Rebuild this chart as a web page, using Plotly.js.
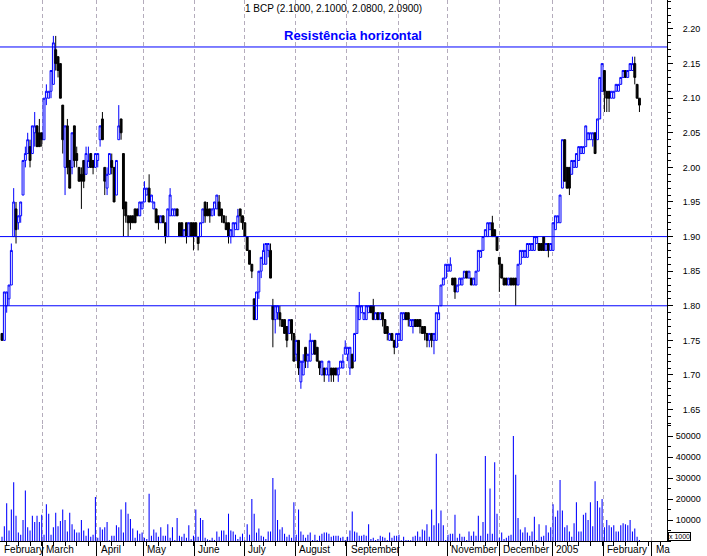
<!DOCTYPE html>
<html><head><meta charset="utf-8">
<script src="https://cdn.plot.ly/plotly-3.0.1.min.js"></script>
<style>body{margin:0;background:#fff}#chart{width:707px;height:556px}</style>
</head><body><div id="chart"></div>
<script>
// Daily candles, trading-day index 0..273 (Feb 2004 - Feb 2005)
const openP = [
1.76,1.75,1.80,1.81,1.83,1.90,1.94,1.92,1.93,1.96,
2.01,2.02,2.03,2.02,2.05,2.06,2.05,2.05,2.04,2.10,
2.10,2.11,2.12,2.17,2.16,2.15,2.09,2.00,2.06,2.01,
2.00,2.06,2.02,2.00,1.99,2.01,1.99,2.00,2.02,2.01,
2.00,2.01,2.04,2.07,2.00,1.97,1.99,2.01,2.00,1.96,
2.04,2.07,2.02,1.95,1.93,1.93,1.93,1.94,1.94,1.93,
1.94,1.95,1.96,1.97,1.95,1.94,1.94,1.93,1.92,1.93,
1.92,1.90,1.93,1.93,1.93,1.94,1.92,1.92,1.90,1.92,
1.90,1.92,1.92,1.92,1.90,1.90,1.92,1.95,1.94,1.94,
1.93,1.94,1.94,1.95,1.94,1.93,1.92,1.92,1.90,1.90,
1.91,1.91,1.94,1.93,1.92,1.90,1.88,1.86,1.81,1.78,
1.82,1.85,1.86,1.86,1.88,1.88,1.80,1.78,1.79,1.79,
1.78,1.78,1.77,1.76,1.78,1.76,1.73,1.75,1.69,1.70,
1.74,1.72,1.72,1.73,1.75,1.74,1.72,1.70,1.71,1.70,
1.70,1.71,1.71,1.71,1.70,1.71,1.71,1.73,1.73,1.71,
1.73,1.72,1.76,1.78,1.79,1.78,1.78,1.79,1.80,1.80,
1.78,1.79,1.78,1.79,1.78,1.77,1.75,1.76,1.75,1.74,
1.75,1.75,1.78,1.79,1.79,1.77,1.77,1.78,1.78,1.78,
1.77,1.77,1.76,1.75,1.76,1.75,1.75,1.78,1.80,1.83,
1.84,1.85,1.85,1.84,1.84,1.82,1.83,1.83,1.84,1.85,
1.84,1.84,1.83,1.83,1.85,1.87,1.88,1.90,1.90,1.91,
1.92,1.91,1.90,1.87,1.86,1.84,1.84,1.83,1.84,1.84,
1.84,1.83,1.86,1.87,1.87,1.87,1.88,1.88,1.88,1.89,
1.89,1.89,1.90,1.88,1.89,1.88,1.88,1.91,1.92,1.92,
1.97,2.04,2.00,2.00,1.99,2.00,2.00,2.01,2.02,2.02,
2.03,2.04,2.04,2.04,2.05,2.04,2.07,2.11,2.14,2.11,
2.11,2.10,2.10,2.11,2.11,2.12,2.13,2.14,2.13,2.14,
2.14,2.15,2.12,2.10];
const highP = [
1.76,1.82,1.82,1.83,1.89,1.97,1.95,1.93,1.95,2.01,
2.03,2.05,2.04,2.06,2.08,2.06,2.07,2.05,2.10,2.12,
2.11,2.14,2.19,2.19,2.16,2.15,2.09,2.06,2.07,2.01,
2.05,2.06,2.03,2.00,2.00,2.01,2.03,2.03,2.02,2.01,
2.02,2.02,2.06,2.08,2.00,2.00,2.02,2.02,2.00,2.01,
2.09,2.07,2.02,1.95,1.93,1.93,1.93,1.94,1.94,1.95,
1.95,1.98,1.97,1.99,1.96,1.95,1.94,1.93,1.93,1.93,
1.92,1.94,1.97,1.94,1.94,1.94,1.92,1.92,1.91,1.92,
1.92,1.92,1.92,1.92,1.90,1.92,1.94,1.95,1.95,1.94,
1.94,1.95,1.96,1.96,1.94,1.93,1.93,1.92,1.91,1.92,
1.92,1.94,1.94,1.93,1.92,1.90,1.88,1.86,1.81,1.82,
1.85,1.87,1.89,1.89,1.89,1.89,1.81,1.80,1.80,1.80,
1.78,1.78,1.77,1.78,1.78,1.76,1.75,1.75,1.72,1.73,
1.74,1.73,1.76,1.75,1.75,1.74,1.72,1.72,1.71,1.71,
1.72,1.71,1.71,1.71,1.71,1.72,1.73,1.75,1.74,1.74,
1.73,1.76,1.80,1.82,1.80,1.79,1.80,1.80,1.80,1.81,
1.79,1.79,1.79,1.79,1.78,1.77,1.76,1.76,1.75,1.76,
1.76,1.79,1.79,1.79,1.79,1.78,1.78,1.78,1.78,1.78,
1.77,1.77,1.76,1.76,1.76,1.76,1.79,1.80,1.83,1.84,
1.86,1.86,1.87,1.84,1.84,1.83,1.84,1.84,1.85,1.85,
1.85,1.84,1.84,1.85,1.88,1.88,1.90,1.91,1.92,1.92,
1.93,1.91,1.90,1.87,1.86,1.84,1.84,1.84,1.84,1.84,
1.84,1.86,1.88,1.88,1.88,1.89,1.89,1.89,1.90,1.90,
1.89,1.89,1.90,1.89,1.89,1.89,1.92,1.93,1.93,1.96,
2.04,2.04,2.00,2.00,2.01,2.01,2.02,2.03,2.03,2.03,
2.06,2.05,2.05,2.05,2.05,2.07,2.13,2.15,2.14,2.11,
2.11,2.11,2.11,2.12,2.12,2.13,2.14,2.14,2.14,2.15,
2.16,2.16,2.12,2.10];
const lowP = [
1.75,1.75,1.79,1.80,1.83,1.90,1.89,1.91,1.92,1.96,
2.00,2.02,2.00,2.02,2.03,2.03,2.03,2.03,2.04,2.09,
2.10,2.10,2.12,2.14,2.13,2.10,2.02,1.96,1.99,1.97,
1.99,2.00,2.00,1.98,1.94,1.97,1.99,2.00,2.00,1.99,
2.00,2.00,2.03,2.04,1.96,1.96,1.99,1.99,1.95,1.96,
2.04,2.04,1.90,1.92,1.90,1.91,1.92,1.92,1.93,1.93,
1.94,1.95,1.96,1.95,1.95,1.94,1.92,1.91,1.92,1.92,
1.89,1.90,1.93,1.93,1.93,1.93,1.90,1.90,1.90,1.89,
1.90,1.90,1.88,1.90,1.88,1.90,1.92,1.92,1.93,1.92,
1.93,1.93,1.94,1.93,1.92,1.92,1.91,1.89,1.89,1.90,
1.91,1.91,1.92,1.91,1.90,1.88,1.86,1.84,1.78,1.78,
1.81,1.84,1.86,1.86,1.87,1.84,1.74,1.76,1.78,1.77,
1.77,1.76,1.74,1.76,1.75,1.72,1.72,1.70,1.68,1.70,
1.71,1.71,1.72,1.73,1.73,1.72,1.70,1.70,1.69,1.70,
1.69,1.69,1.69,1.70,1.69,1.71,1.71,1.73,1.72,1.70,
1.71,1.72,1.76,1.78,1.79,1.78,1.78,1.79,1.79,1.78,
1.78,1.78,1.78,1.77,1.76,1.75,1.75,1.75,1.73,1.74,
1.75,1.75,1.78,1.78,1.77,1.77,1.76,1.77,1.77,1.76,
1.76,1.75,1.74,1.74,1.74,1.73,1.75,1.78,1.80,1.83,
1.84,1.85,1.85,1.83,1.81,1.82,1.83,1.83,1.84,1.84,
1.84,1.83,1.83,1.83,1.85,1.87,1.88,1.90,1.90,1.91,
1.90,1.90,1.88,1.82,1.84,1.83,1.83,1.83,1.83,1.83,
1.80,1.83,1.86,1.87,1.87,1.87,1.88,1.88,1.88,1.89,
1.88,1.88,1.88,1.88,1.87,1.88,1.88,1.91,1.92,1.92,
1.97,1.98,1.97,1.96,1.99,2.00,2.00,2.01,2.02,2.02,
2.03,2.04,2.04,2.03,2.02,2.04,2.07,2.11,2.08,2.08,
2.08,2.10,2.10,2.11,2.11,2.12,2.13,2.13,2.13,2.14,
2.14,2.12,2.10,2.08];
const closeP = [
1.75,1.82,1.82,1.83,1.88,1.95,1.91,1.93,1.95,2.01,
2.02,2.04,2.01,2.06,2.06,2.03,2.03,2.04,2.10,2.11,
2.11,2.14,2.18,2.15,2.14,2.10,2.04,2.06,2.00,1.97,
2.05,2.01,2.01,1.98,1.98,1.98,2.02,2.01,2.00,2.00,
2.02,2.02,2.06,2.04,1.98,1.99,2.02,2.00,1.95,2.01,
2.06,2.05,1.94,1.93,1.92,1.92,1.92,1.92,1.93,1.95,
1.95,1.97,1.97,1.95,1.96,1.95,1.92,1.92,1.93,1.92,
1.90,1.94,1.96,1.94,1.94,1.93,1.90,1.90,1.91,1.90,
1.92,1.90,1.90,1.90,1.89,1.92,1.94,1.93,1.93,1.93,
1.94,1.95,1.96,1.93,1.93,1.92,1.91,1.90,1.91,1.92,
1.92,1.93,1.93,1.92,1.90,1.88,1.86,1.85,1.78,1.82,
1.85,1.87,1.88,1.89,1.89,1.84,1.78,1.80,1.80,1.78,
1.77,1.76,1.75,1.78,1.76,1.72,1.75,1.71,1.72,1.72,
1.72,1.73,1.75,1.75,1.73,1.72,1.71,1.72,1.70,1.71,
1.72,1.70,1.70,1.70,1.71,1.72,1.72,1.74,1.74,1.74,
1.71,1.76,1.80,1.80,1.80,1.79,1.80,1.80,1.79,1.78,
1.79,1.78,1.79,1.78,1.76,1.76,1.76,1.75,1.74,1.76,
1.76,1.79,1.79,1.78,1.78,1.78,1.78,1.77,1.77,1.77,
1.76,1.76,1.75,1.76,1.75,1.76,1.79,1.79,1.83,1.84,
1.86,1.86,1.86,1.83,1.82,1.83,1.84,1.84,1.85,1.84,
1.85,1.83,1.84,1.85,1.88,1.88,1.90,1.91,1.92,1.92,
1.90,1.90,1.88,1.86,1.84,1.83,1.83,1.84,1.83,1.83,
1.83,1.86,1.88,1.88,1.88,1.89,1.89,1.89,1.90,1.90,
1.88,1.88,1.88,1.89,1.88,1.89,1.92,1.93,1.93,1.96,
2.04,1.98,1.97,1.97,2.01,2.01,2.02,2.03,2.03,2.03,
2.06,2.05,2.05,2.05,2.02,2.07,2.13,2.15,2.11,2.10,
2.10,2.11,2.11,2.12,2.12,2.13,2.14,2.13,2.14,2.15,
2.15,2.13,2.10,2.09];
const volume = [
2000,7000,18000,5000,15000,28000,12000,4000,3000,10000,
24000,6500,5000,12000,9000,12000,9000,12500,3000,17500,
13000,3000,6500,13500,7000,9500,15000,10000,4500,13500,
8000,5500,4000,4000,10000,5000,2500,6000,2000,3000,
21000,1500,6500,5500,6500,9000,300,2500,2500,7500,
6500,15000,4000,18500,13000,10500,6000,1500,5000,3500,
4000,1500,1000,22500,2500,5500,4000,2000,6500,2500,
2500,8000,1500,6500,500,11000,2500,2000,3500,1500,
7500,800,2500,15000,2000,11000,10000,1500,800,500,
1500,500,4500,2000,5000,5000,3000,13000,5000,4500,
3000,1000,2000,3500,300,8000,3000,20000,13000,4000,
6000,2500,2000,1000,4500,4500,30000,24500,10000,5500,
6500,3500,2000,3000,1500,18500,3000,15000,4500,3000,
1500,3000,4000,500,3000,500,2500,3500,4000,4000,
3500,2000,2500,2500,2500,
1500,2000,500,2000,5000,14000,4500,4000,2500,2500,
3000,2500,8000,1000,1500,500,1000,2500,2000,1500,
500,4000,1500,2500,2500,3000,300,2000,500,500,
300,2000,2500,4500,2000,5500,5000,8000,2000,15000,
7500,41500,8500,14500,7500,500,3000,3500,3500,12500,
1500,3500,2000,2000,500,4500,2500,4500,2500,12000,
2500,9000,40500,3500,25000,3500,37500,13000,1500,4000,
1000,1500,2500,3000,50000,31500,11000,5500,4000,6500,
4000,2500,4500,11500,500,8000,2000,2500,7500,4000,
6500,17500,11500,14500,29000,14500,6500,7500,4500,2000,
8500,18500,4500,4500,12500,13500,10000,18500,7000,28500,
19000,16000,20000,6500,10000,7500,6500,7500,4500,4500,
7500,8500,8000,7500,10000,4500,6000,2000,500];
// Month boundaries (trading-day index) and labels
const monthTicks = [17.26,40.56,60.51,82.36,103.77,125.61,147.62,169.72,190.71,212.98,235.68,257.52,278.25];
const monthLabelPos = [-0.86,17.26,40.56,60.51,82.36,103.77,125.61,147.62,190.71,212.98,235.68,257.52,278.25];
const monthLabels = ['February','March','April','May','June','July','August','September','November','December','2005','February','Ma'];
const levels = [2.174, 1.90, 1.80];
const priceTicks = [1.65,1.70,1.75,1.80,1.85,1.90,1.95,2.00,2.05,2.10,2.15,2.20];
const volTicks = [10000,20000,30000,40000,50000];
const titleText = '1 BCP (2.1000, 2.1000, 2.0800, 2.0900)';
const noteText = 'Resistência horizontal';

const day = closeP.map((_, i) => i);
const FONT = 'Liberation Sans, Arial, sans-serif';

const traces = [
  {type:'candlestick', x:day, open:openP, high:highP, low:lowP, close:closeP,
   xaxis:'x', yaxis:'y', whiskerwidth:0, hoverinfo:'skip',
   increasing:{line:{color:'#0000ff', width:1}, fillcolor:'#ffffff'},
   decreasing:{line:{color:'#000000', width:1}, fillcolor:'#000000'}},
  {type:'bar', x:day, y:volume, xaxis:'x', yaxis:'y2', width:0.45,
   marker:{color:'#0000ff', line:{width:0}}, hoverinfo:'skip'}
];

const annotations = monthLabelPos.map((p, i) => ({
  x:p, xref:'x', y:-8/541, yref:'paper', text:monthLabels[i], showarrow:false,
  xanchor:'left', yanchor:'middle', xshift:2,
  font:{family:FONT, size:10, color:'#000'}
}));
annotations.push({x:0.5, xref:'paper', y:1-9/541, yref:'paper', text:titleText, showarrow:false,
  xanchor:'center', yanchor:'middle', font:{family:FONT, size:10, color:'#000'}});
annotations.push({x:353/667, xref:'paper', y:1-35/541, yref:'paper', text:'<b>'+noteText+'</b>', showarrow:false,
  xanchor:'center', yanchor:'middle', font:{family:FONT, size:13, color:'#0000ff'}});
annotations.push({x:1, xref:'paper', y:0, yref:'paper', text:'x 1000', showarrow:false,
  xanchor:'left', yanchor:'bottom', xshift:1, bordercolor:'#000', borderwidth:1, borderpad:0,
  bgcolor:'#fff', font:{family:FONT, size:7, color:'#000'}});

const shapes = levels.map(v => ({type:'line', xref:'paper', x0:0, x1:1, yref:'y', y0:v, y1:v,
  line:{color:'#0000ff', width:1}}));

const layout = {
  width:707, height:556,
  margin:{l:0, r:40, t:0, b:15, pad:0},
  paper_bgcolor:'#ffffff', plot_bgcolor:'#ffffff',
  showlegend:false,
  font:{family:FONT, size:10, color:'#000'},
  boxgap:0.1, boxgroupgap:0.1,
  xaxis:{range:[-0.86, 284.8], anchor:'y2', rangeslider:{visible:false},
    tickmode:'array', tickvals:monthTicks, showticklabels:false,
    ticks:'outside', ticklen:15, tickcolor:'#000', tickwidth:1,
    showgrid:true, gridcolor:'#b4acbc', griddash:'4px,3px', gridwidth:1,
    showline:true, linecolor:'#000', linewidth:1, zeroline:false,
    minor:{tickmode:'linear', tick0:2, dtick:5, ticks:'outside', ticklen:4, tickcolor:'#000', showgrid:false},
    fixedrange:true},
  yaxis:{domain:[116/541, 1], range:[1.6277, 2.2419], side:'right', anchor:'x',
    tickmode:'array', tickvals:priceTicks, tickformat:'.2f',
    ticks:'outside', ticklen:5, tickcolor:'#000', ticklabelstandoff:8,
    showline:true, linecolor:'#000', showgrid:false, zeroline:false,
    tickfont:{family:FONT, size:9, color:'#000'},
    minor:{tickmode:'linear', tick0:1.60, dtick:0.01, ticks:'outside', ticklen:3, tickcolor:'#000', showgrid:false},
    fixedrange:true},
  yaxis2:{domain:[0, 116/541], range:[0, 55238], side:'right', anchor:'x',
    tickmode:'array', tickvals:volTicks, tickformat:'d',
    ticks:'outside', ticklen:5, tickcolor:'#000', ticklabelstandoff:1,
    showline:true, linecolor:'#000', showgrid:false, zeroline:false,
    tickfont:{family:FONT, size:9, color:'#000'},
    minor:{tickmode:'linear', tick0:0, dtick:5000, ticks:'outside', ticklen:3, tickcolor:'#000', showgrid:false},
    fixedrange:true},
  annotations:annotations,
  shapes:shapes
};

Plotly.newPlot('chart', traces, layout, {staticPlot:true, displayModeBar:false});
</script>
</body></html>
